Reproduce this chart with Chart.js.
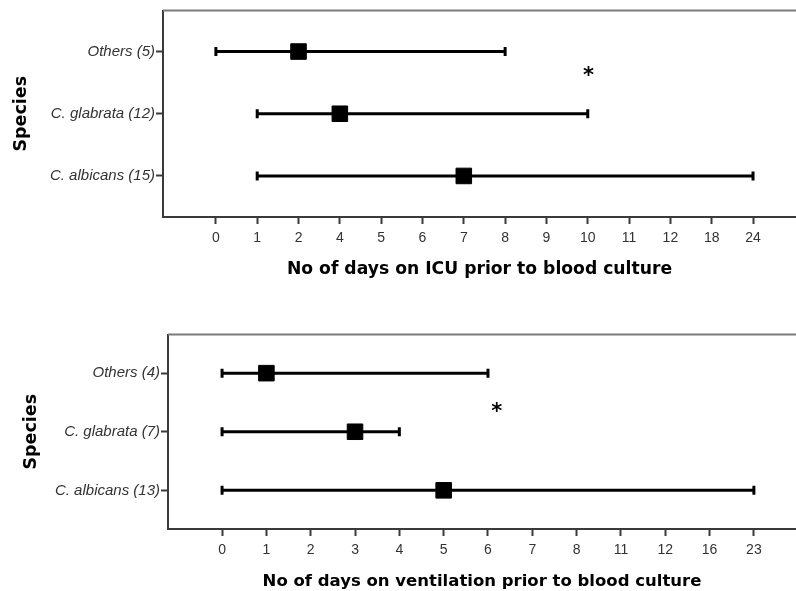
<!DOCTYPE html>
<html>
<head>
<meta charset="utf-8">
<script src="https://cdn.jsdelivr.net/npm/chart.js@4.4.1/dist/chart.umd.min.js"></script>
<style>
    body { margin: 0; background: #fff; width: 796px; height: 591px; overflow: hidden; }
    canvas { position: absolute; left: 0; }
    #icuChart { top: 0; }
    #ventChart { top: 300px; }
</style>
</head>
<body>
<canvas id="icuChart" width="796" height="300"></canvas>
<canvas id="ventChart" width="796" height="291"></canvas>
<script>
// Panel 1: days on ICU
const icuLabels = ['0', '1', '2', '4', '5', '6', '7', '8', '9', '10', '11', '12', '18', '24'];
const icuSpecies = ['Others (5)', 'C. glabrata (12)', 'C. albicans (15)'];
const icuMin = [0, 1, 1];
const icuMedian = [2, 4, 7];
const icuMax = [8, 10, 24];
const icuStar = [9.02, 0.35]; // axis position (tick index, row)

// Panel 2: days on ventilation
const ventLabels = ['0', '1', '2', '3', '4', '5', '6', '7', '8', '11', '12', '16', '23'];
const ventSpecies = ['Others (4)', 'C. glabrata (7)', 'C. albicans (13)'];
const ventMin = [0, 0, 0];
const ventMedian = [1, 3, 5];
const ventMax = [6, 4, 23];
const ventStar = [6.2, 0.62];

const INK = '#000';
const AXIS = '#3a3a3a';
const TEXT = '#333';

// top line of the frame + the asterisk
const framePlugin = {
    id: 'frame',
    afterDraw(chart, args, opts) {
        const { ctx, chartArea, scales } = chart;
        ctx.save();
        ctx.strokeStyle = '#7a7a7a';
        ctx.lineWidth = 2;
        ctx.beginPath();
        ctx.moveTo(chartArea.left, chartArea.top);
        ctx.lineTo(chartArea.right, chartArea.top);
        ctx.stroke();
        ctx.fillStyle = INK;
        ctx.font = 'bold 21px "DejaVu Sans"';
        ctx.textAlign = 'center';
        ctx.textBaseline = 'middle';
        ctx.fillText('*', scales.x.getPixelForValue(opts.star[0]), scales.y.getPixelForValue(opts.star[1]) + 3);
        ctx.restore();
    }
};

function buildChart(id, cfg) {
    const idx = (day) => cfg.labels.indexOf(String(day));
    const datasets = cfg.species.map((s, i) => ({
        type: 'line',
        data: [{ x: idx(cfg.min[i]), y: i }, { x: idx(cfg.max[i]), y: i }],
        borderColor: INK,
        borderWidth: 3,
        pointStyle: 'line',
        pointRotation: 90,
        pointRadius: 4.5,
        pointBorderWidth: 3,
        pointBorderColor: INK
    }));
    datasets.push({
        type: 'scatter',
        data: cfg.median.map((m, i) => ({ x: idx(m), y: i })),
        pointStyle: 'rect',
        pointRadius: 11,
        pointBackgroundColor: INK,
        pointBorderColor: INK,
        pointBorderWidth: 1
    });

    return new Chart(document.getElementById(id), {
        type: 'line',
        data: { datasets },
        plugins: [framePlugin],
        options: {
            responsive: false,
            animation: false,
            devicePixelRatio: 1,
            layout: { autoPadding: false, padding: { top: cfg.top, left: 0, right: 0, bottom: 0 } },
            plugins: {
                legend: { display: false },
                tooltip: { enabled: false },
                frame: { star: cfg.star }
            },
            scales: {
                x: {
                    type: 'linear',
                    min: cfg.xMin,
                    max: cfg.xMax,
                    afterBuildTicks: (scale) => {
                        scale.ticks = cfg.labels.map((_, i) => ({ value: i }));
                    },
                    afterFit: (scale) => { scale.height = cfg.xHeight; },
                    grid: { drawOnChartArea: false, drawTicks: true, tickLength: 7, tickWidth: 2, tickColor: AXIS },
                    border: { display: true, color: AXIS, width: 2 },
                    ticks: {
                        autoSkip: false,
                        maxRotation: 0,
                        padding: 6,
                        color: TEXT,
                        font: { family: '"Liberation Sans", Arial, sans-serif', size: 14 },
                        callback: (v) => cfg.labels[v]
                    },
                    title: {
                        display: true,
                        text: cfg.xTitle,
                        color: INK,
                        font: { family: '"DejaVu Sans", sans-serif', size: cfg.titleSize, weight: 'bold' },
                        padding: { top: 0, bottom: cfg.titlePad }
                    }
                },
                y: {
                    type: 'linear',
                    reverse: true,
                    min: -0.66,
                    max: 2.66,
                    afterBuildTicks: (scale) => {
                        scale.ticks = cfg.species.map((_, i) => ({ value: i }));
                    },
                    afterFit: (scale) => { scale.width = cfg.yWidth; },
                    grid: { drawOnChartArea: false, drawTicks: true, tickLength: 7, tickWidth: 2, tickColor: AXIS },
                    border: { display: true, color: AXIS, width: 2 },
                    ticks: {
                        padding: 1,
                        color: TEXT,
                        font: { family: '"Liberation Sans", Arial, sans-serif', size: 15, style: 'italic' },
                        callback: (v) => cfg.species[v]
                    },
                    title: {
                        display: true,
                        text: 'Species',
                        color: INK,
                        font: { family: '"DejaVu Sans", sans-serif', size: 17.5, weight: 'bold' },
                        padding: { top: cfg.yTitlePad, bottom: 0 }
                    }
                }
            }
        }
    });
}

buildChart('icuChart', {
    labels: icuLabels, species: icuSpecies,
    min: icuMin, median: icuMedian, max: icuMax, star: icuStar,
    xMin: -1.28, xMax: 14.04,
    top: 10.5, xHeight: 83, yWidth: 163, titlePad: 20, yTitlePad: 11, titleSize: 17.2,
    xTitle: 'No of days on ICU prior to blood culture'
});

buildChart('ventChart', {
    labels: ventLabels, species: ventSpecies,
    min: ventMin, median: ventMedian, max: ventMax, star: ventStar,
    xMin: -1.22, xMax: 12.95,
    top: 34.5, xHeight: 62, yWidth: 168, titlePad: -1, yTitlePad: 21, titleSize: 16.5,
    xTitle: 'No of days on ventilation prior to blood culture'
});
</script>
</body>
</html>
